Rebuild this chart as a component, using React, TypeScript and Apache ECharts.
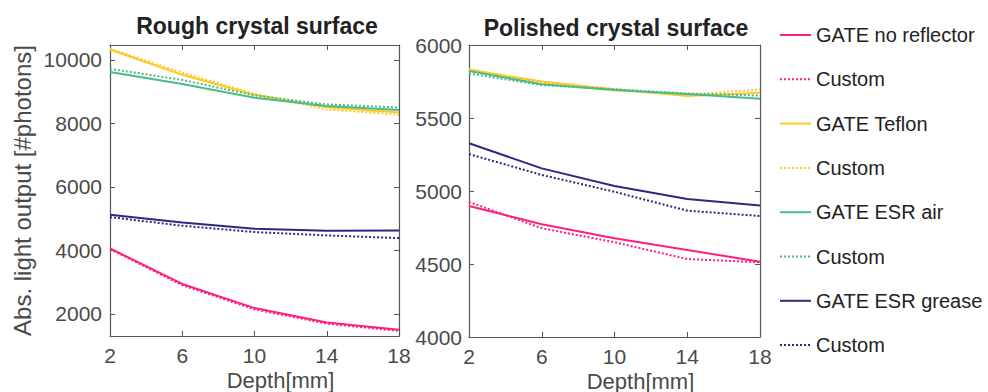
import React, { useEffect, useRef } from "react";
import * as echarts from "echarts";

const depth = [2, 6, 10, 14, 18];

const seriesNames = [
  "GATE no reflector",
  "Custom#1",
  "GATE Teflon",
  "Custom#2",
  "GATE ESR air",
  "Custom#3",
  "GATE ESR grease",
  "Custom#4",
];

// Rough crystal surface
const roughNoRefGate = [4060, 2940, 2180, 1725, 1495];
const roughNoRefCustom = [4040, 2900, 2140, 1690, 1460];
const roughTeflonGate = [10330, 9530, 8900, 8505, 8340];
const roughTeflonCustom = [10350, 9600, 8930, 8440, 8275];
const roughEsrAirGate = [9620, 9240, 8810, 8550, 8425];
const roughEsrAirCustom = [9720, 9370, 8880, 8600, 8500];
const roughEsrGreaseGate = [5120, 4880, 4680, 4615, 4625];
const roughEsrGreaseCustom = [5045, 4775, 4575, 4470, 4385];

// Polished crystal surface
const polNoRefGate = [4897, 4772, 4676, 4596, 4516];
const polNoRefCustom = [4925, 4745, 4649, 4534, 4512];
const polTeflonGate = [5830, 5750, 5697, 5651, 5673];
const polTeflonCustom = [5835, 5742, 5688, 5660, 5695];
const polEsrAirGate = [5822, 5731, 5692, 5664, 5632];
const polEsrAirCustom = [5805, 5725, 5697, 5668, 5653];
const polEsrGreaseGate = [5327, 5155, 5034, 4945, 4900];
const polEsrGreaseCustom = [5253, 5110, 4995, 4865, 4829];

const roughData = [
  roughNoRefGate,
  roughNoRefCustom,
  roughTeflonGate,
  roughTeflonCustom,
  roughEsrAirGate,
  roughEsrAirCustom,
  roughEsrGreaseGate,
  roughEsrGreaseCustom,
];
const polData = [
  polNoRefGate,
  polNoRefCustom,
  polTeflonGate,
  polTeflonCustom,
  polEsrAirGate,
  polEsrAirCustom,
  polEsrGreaseGate,
  polEsrGreaseCustom,
];

const colors = ["#ff1f7c", "#ff1f7c", "#ffc925", "#ffc925", "#4dbb88", "#4dbb88", "#2b2a80", "#2b2a80"];

const FONT = "'Liberation Sans', Arial, Helvetica, sans-serif";
const AXIS_COLOR = "#555";
const LABEL_COLOR = "#4a4a4a";
const plain = (v: number) => String(v);

export default function App() {
  const ref = useRef<HTMLDivElement>(null);

  useEffect(() => {
    if (!ref.current) return;
    const chart = echarts.init(ref.current, null, { renderer: "svg" });

    const grids = [
      { left: 110, top: 45, width: 289, height: 291, outerBoundsMode: "none", containLabel: false },
      { left: 469, top: 45, width: 291, height: 292, outerBoundsMode: "none", containLabel: false },
    ];

    const mainX = (gi: number) => ({
      type: "value",
      gridIndex: gi,
      min: 2,
      max: 18,
      interval: 4,
      position: "bottom",
      name: "Depth[mm]",
      nameLocation: "middle",
      nameGap: 33,
      nameMoveOverlap: false,
      nameTextStyle: {
        fontFamily: FONT,
        fontSize: 22,
        color: LABEL_COLOR,
        padding: [0, 0, 0, 52],
        verticalAlign: "top",
      },
      axisLine: { show: true, lineStyle: { color: AXIS_COLOR, width: 1.2 } },
      axisTick: { show: true, inside: true, length: 5, lineStyle: { color: AXIS_COLOR } },
      axisLabel: { fontFamily: FONT, fontSize: 21, color: LABEL_COLOR, margin: 9, formatter: plain },
      splitLine: { show: false },
    });
    const topX = (gi: number) => ({
      type: "value",
      gridIndex: gi,
      min: 2,
      max: 18,
      interval: 4,
      position: "top",
      axisLine: { show: true, lineStyle: { color: AXIS_COLOR, width: 1.2 } },
      axisTick: { show: true, inside: true, length: 5, lineStyle: { color: AXIS_COLOR } },
      axisLabel: { show: false },
      splitLine: { show: false },
    });

    const yCommon = {
      type: "value",
      axisLine: { show: true, lineStyle: { color: AXIS_COLOR, width: 1.2 } },
      axisTick: { show: true, inside: true, length: 5, lineStyle: { color: AXIS_COLOR } },
      splitLine: { show: false },
    };

    const xAxis = [mainX(0), topX(0), mainX(1), topX(1)];
    const yAxis = [
      {
        ...yCommon,
        gridIndex: 0,
        position: "left",
        min: 1300,
        max: 10470,
        minInterval: 2000,
        maxInterval: 2000,
        name: "Abs. light output [#photons]",
        nameLocation: "middle",
        nameGap: 76,
        nameTextStyle: { fontFamily: FONT, fontSize: 24, color: LABEL_COLOR },
        axisLabel: {
          fontFamily: FONT,
          fontSize: 21,
          color: LABEL_COLOR,
          margin: 8,
          showMinLabel: false,
          showMaxLabel: false,
          formatter: plain,
        },
      },
      {
        ...yCommon,
        gridIndex: 0,
        position: "right",
        min: 1300,
        max: 10470,
        minInterval: 2000,
        maxInterval: 2000,
        axisLabel: { show: false },
      },
      {
        ...yCommon,
        gridIndex: 1,
        position: "left",
        min: 4000,
        max: 6000,
        interval: 500,
        axisLabel: { fontFamily: FONT, fontSize: 21, color: LABEL_COLOR, margin: 7, formatter: plain },
      },
      {
        ...yCommon,
        gridIndex: 1,
        position: "right",
        min: 4000,
        max: 6000,
        interval: 500,
        axisLabel: { show: false },
      },
    ];

    const makeSeries = (data: number[][], xi: number, yi: number) =>
      data.map((vals, i) => ({
        type: "line",
        name: seriesNames[i],
        xAxisIndex: xi,
        yAxisIndex: yi,
        data: depth.map((d, k) => [d, vals[k]]),
        symbol: "none",
        showSymbol: false,
        smooth: false,
        color: colors[i],
        itemStyle: { color: colors[i], opacity: 0 },
        lineStyle: {
          color: colors[i],
          width: 2,
          type: i % 2 === 1 ? [2, 2] : "solid",
        },
        z: 2 + i,
      }));

    const series = [...makeSeries(roughData, 0, 0), ...makeSeries(polData, 2, 2)];

    chart.setOption({
      animation: false,
      backgroundColor: "#ffffff",
      grid: grids,
      xAxis,
      yAxis,
      series,
      legend: {
        orient: "vertical",
        left: 779,
        top: 25,
        padding: 0,
        itemWidth: 31,
        itemHeight: 20,
        itemGap: 24.3,
        data: seriesNames,
        itemStyle: { opacity: 0 },
        formatter: (name: string) => (name.startsWith("Custom") ? "Custom" : name),
        textStyle: { fontFamily: FONT, fontSize: 20, color: "#222", lineHeight: 20 },
        selectedMode: false,
      },
      graphic: [
        {
          type: "text",
          x: 257,
          y: 25.5,
          style: {
            text: "Rough crystal surface",
            fontFamily: FONT,
            fontSize: 23,
            fontWeight: "bold",
            fill: "#222",
            align: "center",
            verticalAlign: "middle",
          },
        },
        {
          type: "text",
          x: 616,
          y: 28,
          style: {
            text: "Polished crystal surface",
            fontFamily: FONT,
            fontSize: 23,
            fontWeight: "bold",
            fill: "#222",
            align: "center",
            verticalAlign: "middle",
          },
        },
      ],
    });

    return () => chart.dispose();
  }, []);

  return (
    <div
      ref={ref}
      style={{ position: "fixed", left: 0, top: 0, width: 988, height: 392, background: "#fff" }}
    />
  );
}
